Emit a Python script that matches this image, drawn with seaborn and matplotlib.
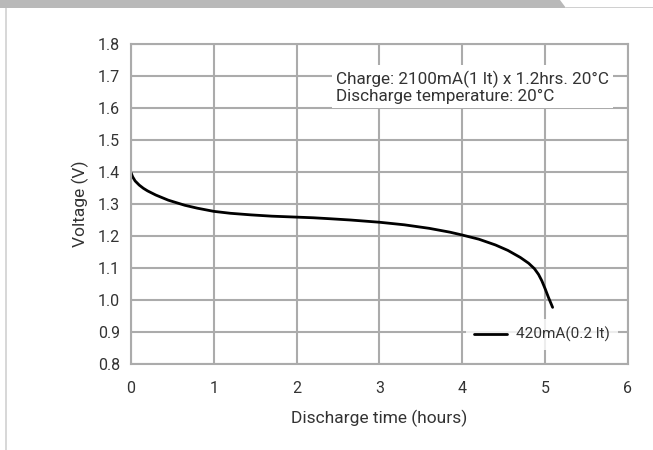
import matplotlib
matplotlib.use("Agg")
import matplotlib.pyplot as plt
import numpy as np
import pandas as pd
import seaborn as sns
from matplotlib.patches import Polygon, Rectangle

# discharge curve (hours, volts)
hours = [0.0, 0.02, 0.05, 0.1, 0.15, 0.2, 0.3, 0.45, 0.65, 0.8, 1.0, 1.2,
         1.45, 1.7, 2.0, 2.2, 2.4, 2.65, 3.0, 3.3, 3.6, 3.85, 4.0, 4.2, 4.4,
         4.55, 4.7, 4.8, 4.87, 4.92, 4.96, 5.0, 5.04, 5.09]
volts = [1.398, 1.385, 1.372, 1.359, 1.349, 1.341, 1.328, 1.312, 1.296, 1.287,
         1.277, 1.271, 1.266, 1.262, 1.259, 1.257, 1.254, 1.250, 1.243, 1.235,
         1.224, 1.212, 1.203, 1.190, 1.172, 1.155, 1.133, 1.115, 1.098, 1.080,
         1.060, 1.035, 1.008, 0.977]
series_label = "420mA(0.2 lt)"
note_lines = ["Charge: 2100mA(1 lt) x 1.2hrs. 20°C", "Discharge temperature: 20°C"]
x_ticks = [0, 1, 2, 3, 4, 5, 6]
y_ticks = [0.8, 0.9, 1.0, 1.1, 1.2, 1.3, 1.4, 1.5, 1.6, 1.7, 1.8]

df = pd.DataFrame({"hours": hours, "volts": volts, "key": series_label})

sns.set_theme(style="whitegrid")
plt.rcParams["font.family"] = ["Roboto", "DejaVu Sans"]
grid_col = "#ababab"
text_col = "#333333"

fig = plt.figure(figsize=(6.53, 4.5), dpi=100)
ax = fig.add_axes([0.2006, 0.1911, 0.7611, 0.7111])

sns.lineplot(data=df, x="hours", y="volts", hue="key", palette=["black"],
             linewidth=2.0, ax=ax, legend=True)

ax.set_xlim(0, 6)
ax.set_ylim(0.8, 1.8)
ax.set_xticks(x_ticks)
ax.set_yticks(y_ticks)
ax.set_yticklabels([f"{v:.1f}" for v in y_ticks])
ax.grid(True, color=grid_col, linewidth=1.5)
for s in ax.spines.values():
    s.set_color(grid_col)
    s.set_linewidth(1.5)
ax.tick_params(axis="both", length=0, labelsize=11.5, labelcolor=text_col)
ax.tick_params(axis="x", pad=12)
ax.tick_params(axis="y", pad=8)
ax.set_xlabel("Discharge time (hours)", fontsize=12.5, color=text_col, labelpad=10)
ax.set_ylabel("Voltage (V)", fontsize=12.5, color=text_col, labelpad=6)

leg = ax.legend(loc="lower right", bbox_to_anchor=(0.995, 0.02), frameon=True,
                fontsize=11, handlelength=2.2, handletextpad=0.6,
                borderpad=0.5, fancybox=False)
leg.get_frame().set_edgecolor("white")
leg.get_frame().set_linewidth(0)
for t in leg.get_texts():
    t.set_color(text_col)

ax.text(0.412, 0.918, "\n".join(note_lines), transform=ax.transAxes,
        fontsize=12.3, color=text_col, va="top", ha="left", linespacing=1.15,
        bbox=dict(facecolor="white", edgecolor="none", pad=3), zorder=5)

# page decoration: grey banner on top and thin rule on the left
fig.patches.append(Polygon([[0, 1], [560 / 653, 1], [566 / 653, 1 - 8 / 450], [0, 1 - 8 / 450]],
                           closed=True, transform=fig.transFigure,
                           facecolor="#b9b9b9", edgecolor="none"))
fig.patches.append(Rectangle((566 / 653, 1 - 8 / 450), 1, 1.5 / 450, transform=fig.transFigure,
                             facecolor="#d0d0d0", edgecolor="none"))
fig.patches.append(Rectangle((5 / 653, 0), 2 / 653, 1 - 8 / 450, transform=fig.transFigure,
                             facecolor="#d8d8d8", edgecolor="none"))

fig.savefig("out.png", dpi=100)
